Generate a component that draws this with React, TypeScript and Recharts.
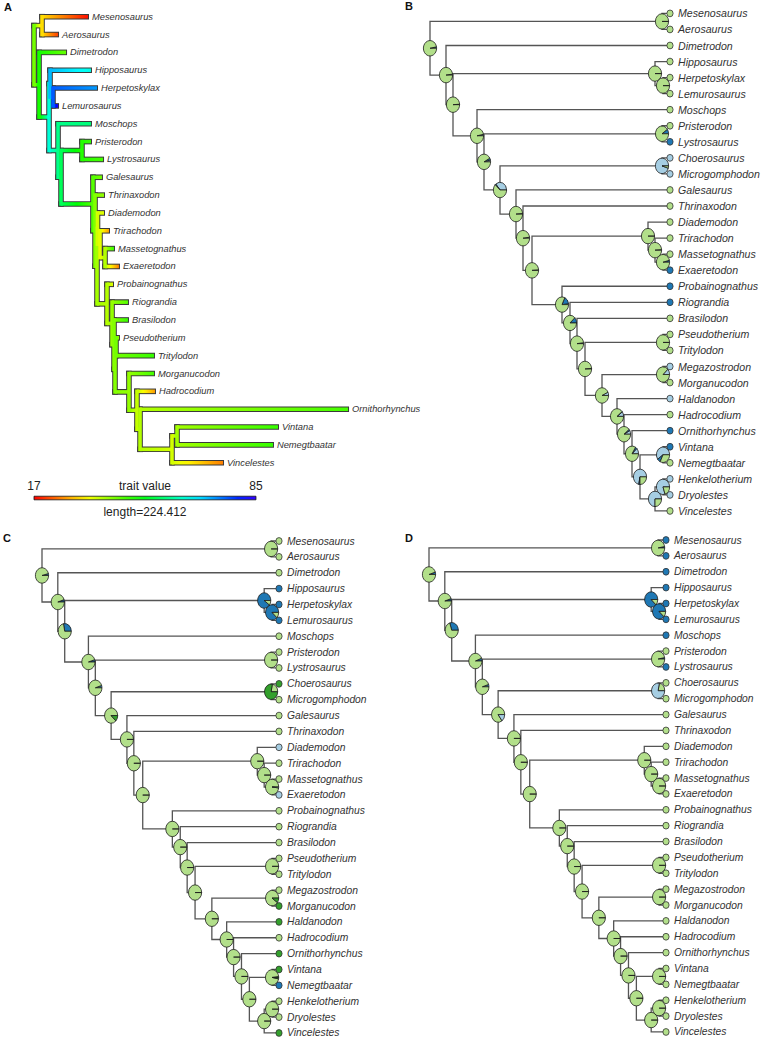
import React from 'react';
import { ComposedChart, XAxis, YAxis, Line, Scatter, ReferenceArea } from 'recharts';

// ---------- state colours ----------
const STATE_COLORS: Record<string, string> = { lb: '#A6CEE3', db: '#1F78B4', lg: '#B2DF8A', dg: '#33A02C' };

// ---------- full tree (panels B, C, D) ----------
const FULL_TIPS = ['Mesenosaurus', 'Aerosaurus', 'Dimetrodon', 'Hipposaurus', 'Herpetoskylax', 'Lemurosaurus', 'Moschops', 'Pristerodon', 'Lystrosaurus', 'Choerosaurus', 'Microgomphodon', 'Galesaurus', 'Thrinaxodon', 'Diademodon', 'Trirachodon', 'Massetognathus', 'Exaeretodon', 'Probainognathus', 'Riograndia', 'Brasilodon', 'Pseudotherium', 'Tritylodon', 'Megazostrodon', 'Morganucodon', 'Haldanodon', 'Hadrocodium', 'Ornithorhynchus', 'Vintana', 'Nemegtbaatar', 'Henkelotherium', 'Dryolestes', 'Vincelestes'];
const FULL_TIP_DEPTH = 240;
// [node, upper child, lower child, depth]
const FULL_NODES: [string, string, string, number][] = [
  ['Root', 'A1', 'N2', 0],
  ['A1', 'Mesenosaurus', 'Aerosaurus', 232],
  ['N2', 'Dimetrodon', 'N3', 16],
  ['N3', 'H1', 'N4', 23],
  ['H1', 'Hipposaurus', 'H2', 225],
  ['H2', 'Herpetoskylax', 'Lemurosaurus', 233],
  ['N4', 'Moschops', 'N5', 47],
  ['N5', 'P1', 'N6', 54],
  ['P1', 'Pristerodon', 'Lystrosaurus', 232],
  ['N6', 'C1', 'N7', 70],
  ['C1', 'Choerosaurus', 'Microgomphodon', 232],
  ['N7', 'Galesaurus', 'N8', 86],
  ['N8', 'Thrinaxodon', 'N9', 93],
  ['N9', 'D1', 'N10', 102],
  ['D1', 'Diademodon', 'D2', 218],
  ['D2', 'Trirachodon', 'D3', 225],
  ['D3', 'Massetognathus', 'Exaeretodon', 233],
  ['N10', 'Probainognathus', 'N11', 132],
  ['N11', 'Riograndia', 'N12', 140],
  ['N12', 'Brasilodon', 'N13', 147],
  ['N13', 'PT', 'N14', 155],
  ['PT', 'Pseudotherium', 'Tritylodon', 233],
  ['N14', 'MM', 'N15', 172],
  ['MM', 'Megazostrodon', 'Morganucodon', 233],
  ['N15', 'Haldanodon', 'N16', 187],
  ['N16', 'Hadrocodium', 'N17', 194],
  ['N17', 'Ornithorhynchus', 'N18', 202],
  ['N18', 'VN', 'N19', 210],
  ['VN', 'Vintana', 'Nemegtbaatar', 233],
  ['N19', 'HD', 'Vincelestes', 225],
  ['HD', 'Henkelotherium', 'Dryolestes', 233],
];

// ---------- panel B ----------
const B_STATE_ORDER = ['lb', 'db', 'lg'];
const B_NODE_PROBS = [
  [0, 0.03, 0.97], [0, 0, 1], [0, 0.02, 0.98], [0, 0.01, 0.99], [0, 0, 1], [0, 0, 1],
  [0, 0.03, 0.97], [0.04, 0.04, 0.92], [0, 0.1, 0.9], [0.36, 0.02, 0.62], [0.95, 0, 0.05],
  [0, 0.01, 0.99], [0, 0.02, 0.98], [0, 0.01, 0.99], [0, 0, 1], [0, 0.01, 0.99], [0, 0.04, 0.96],
  [0.02, 0.16, 0.82], [0, 0.12, 0.88], [0, 0.02, 0.98], [0, 0.01, 0.99], [0, 0, 1],
  [0.07, 0, 0.93], [0.12, 0, 0.88], [0.1, 0.01, 0.89], [0.08, 0.03, 0.89], [0.12, 0.04, 0.84],
  [0.72, 0.03, 0.25], [0.6, 0.08, 0.32], [0.75, 0, 0.25], [0.8, 0, 0.2],
];
const B_TIP_STATES = ['lg', 'lg', 'lg', 'lg', 'lg', 'lg', 'lg', 'lg', 'db', 'lb', 'lb', 'lg', 'lg', 'lg', 'lg', 'lg', 'db', 'db', 'db', 'lg', 'lg', 'lg', 'lb', 'lg', 'lb', 'lg', 'db', 'db', 'lg', 'lb', 'lb', 'lg'];

// ---------- panel C ----------
const C_STATE_ORDER = ['db', 'lg', 'dg', 'lb'];
const C_NODE_PROBS = [
  [0.04, 0.96, 0, 0], [0, 1, 0, 0], [0.05, 0.95, 0, 0], [0.28, 0.72, 0, 0], [0.9, 0.1, 0, 0], [0.88, 0.12, 0, 0],
  [0.05, 0.95, 0, 0], [0.05, 0.95, 0, 0], [0, 1, 0, 0], [0, 0.88, 0.12, 0], [0, 0.22, 0.78, 0],
  [0, 1, 0, 0], [0, 1, 0, 0], [0, 1, 0, 0], [0, 1, 0, 0], [0, 1, 0, 0], [0, 0.98, 0, 0.02],
  [0, 1, 0, 0], [0, 1, 0, 0], [0, 1, 0, 0], [0, 1, 0, 0], [0, 1, 0, 0],
  [0, 1, 0, 0], [0, 0.9, 0.1, 0], [0, 1, 0, 0], [0, 1, 0, 0], [0, 1, 0, 0],
  [0, 1, 0, 0], [0.02, 0.95, 0.03, 0], [0, 1, 0, 0], [0, 1, 0, 0],
];
const C_TIP_STATES = ['lg', 'lg', 'lg', 'db', 'db', 'db', 'lg', 'lg', 'lg', 'dg', 'lg', 'lg', 'lg', 'lb', 'lg', 'lg', 'lb', 'lg', 'lg', 'lg', 'lg', 'lg', 'lg', 'dg', 'dg', 'lg', 'dg', 'dg', 'db', 'lg', 'lg', 'dg'];

// ---------- panel D ----------
const D_STATE_ORDER = ['db', 'lg', 'lb'];
const D_NODE_PROBS = [
  [0.05, 0.95, 0], [0.03, 0.97, 0], [0.05, 0.95, 0], [0.3, 0.7, 0], [0.88, 0.12, 0], [0.88, 0.12, 0],
  [0.06, 0.94, 0], [0.05, 0.95, 0], [0.03, 0.97, 0], [0, 0.85, 0.15], [0, 0.22, 0.78],
  [0, 1, 0], [0, 1, 0], [0, 1, 0], [0, 1, 0], [0, 1, 0], [0, 1, 0],
  [0, 1, 0], [0, 1, 0], [0, 1, 0], [0, 1, 0], [0, 1, 0],
  [0, 1, 0], [0, 1, 0], [0, 1, 0], [0, 1, 0], [0, 1, 0],
  [0, 1, 0], [0, 1, 0], [0, 1, 0], [0, 1, 0],
];
const D_TIP_STATES = ['db', 'db', 'db', 'db', 'db', 'db', 'db', 'lg', 'db', 'lg', 'lg', 'lg', 'lg', 'lg', 'lg', 'lg', 'lg', 'lg', 'lg', 'lg', 'lg', 'lg', 'lg', 'lg', 'lg', 'lg', 'lg', 'lg', 'lg', 'lg', 'lg', 'lg'];

// ---------- panel A (contMap) ----------
const A_TIPS = ['Mesenosaurus', 'Aerosaurus', 'Dimetrodon', 'Hipposaurus', 'Herpetoskylax', 'Lemurosaurus', 'Moschops', 'Pristerodon', 'Lystrosaurus', 'Galesaurus', 'Thrinaxodon', 'Diademodon', 'Trirachodon', 'Massetognathus', 'Exaeretodon', 'Probainognathus', 'Riograndia', 'Brasilodon', 'Pseudotherium', 'Tritylodon', 'Morganucodon', 'Hadrocodium', 'Ornithorhynchus', 'Vintana', 'Nemegtbaatar', 'Vincelestes'];
const A_TIP_DEPTH = [54.6, 24.3, 32.4, 57.6, 63.7, 24.3, 57.6, 57.6, 69.8, 68.7, 70.8, 70.8, 75.8, 80.9, 85.9, 79.9, 95.0, 95.0, 85.9, 121.3, 121.3, 122.3, 317.5, 246.7, 241.6, 191.1];
const A_TIP_VALUE = [18, 21, 43, 64, 72, 84, 57, 46, 45, 42, 40, 35, 27, 46, 25, 35, 44, 46, 40, 46, 45, 27, 45, 46, 46, 25];
// [node, upper child, lower child, depth, trait value]
const A_NODES: [string, string, string, number, number][] = [
  ['Root', 'A1', 'N2', 0, 42],
  ['A1', 'Mesenosaurus', 'Aerosaurus', 8.1, 31],
  ['N2', 'Dimetrodon', 'N3', 5.1, 48],
  ['N3', 'H1', 'N4', 15.2, 63],
  ['H1', 'Hipposaurus', 'H2', 16.2, 70],
  ['H2', 'Herpetoskylax', 'Lemurosaurus', 19.2, 76],
  ['N4', 'Moschops', 'N5', 24.3, 58],
  ['N5', 'P1', 'N7', 27.3, 55],
  ['P1', 'Pristerodon', 'Lystrosaurus', 48.5, 47],
  ['N7', 'Galesaurus', 'N8', 59.6, 44],
  ['N8', 'Thrinaxodon', 'N9', 61.7, 41],
  ['N9', 'D1', 'N10', 63.7, 39],
  ['D1', 'Diademodon', 'D2', 64.2, 36],
  ['D2', 'Trirachodon', 'D3', 66.7, 35],
  ['D3', 'Massetognathus', 'Exaeretodon', 71.8, 38],
  ['N10', 'Probainognathus', 'N11', 73.8, 38],
  ['N11', 'Riograndia', 'N12', 78.9, 40],
  ['N12', 'Brasilodon', 'N13', 80.9, 41],
  ['N13', 'PT', 'N14', 81.9, 41],
  ['PT', 'Pseudotherium', 'Tritylodon', 82.9, 42],
  ['N14', 'Morganucodon', 'N16', 96.0, 40],
  ['N16', 'Hadrocodium', 'N17', 104.1, 37],
  ['N17', 'Ornithorhynchus', 'N18', 107.2, 38],
  ['N18', 'VN', 'Vincelestes', 139.5, 36],
  ['VN', 'Vintana', 'Nemegtbaatar', 144.6, 39],
];
const LEGEND_MIN = 17;
const LEGEND_MAX = 85;
const LEGEND_LENGTH = 224.412;
const LEGEND_TITLE = 'trait value';

// ---------- layout (pixels) ----------
const FONT = '"Liberation Sans", Arial, sans-serif';
const A_GEOM = { left: 0, top: 0, w: 440, h: 519, x0: 34, sx: 1 / 1.011, y0: 16.7, sy: 17.84 };
const B_GEOM = { left: 380, top: 0, w: 382, h: 519, x0: 50, sx: 1, y0: 13.4, sy: 16.05, font: 10.6 };
const C_GEOM = { left: 0, top: 519, w: 380, h: 519, x0: 42, sx: 0.9875, y0: 22, sy: 15.87, font: 10.3 };
const D_GEOM = { left: 380, top: 519, w: 382, h: 519, x0: 49, sx: 0.9875, y0: 21, sy: 15.87, font: 10.3 };
const LEGEND_POS = { labelRow: 26.31, barRow: 26.98, lengthRow: 27.74 };

type Pt = { x: number; y: number };
function layoutTree(tips: string[], tipDepth: (i: number) => number, nodes: [string, string, string, number][]) {
  const pos: Record<string, Pt> = {};
  tips.forEach((t, i) => (pos[t] = { x: tipDepth(i), y: i }));
  const byId: Record<string, [string, string, string, number]> = {};
  nodes.forEach((n) => (byId[n[0]] = n));
  const get = (id: string): Pt => {
    if (pos[id]) return pos[id];
    const n = byId[id];
    const a = get(n[1]);
    const b = get(n[2]);
    pos[id] = { x: n[3], y: (a.y + b.y) / 2 };
    return pos[id];
  };
  nodes.forEach((n) => get(n[0]));
  return pos;
}

const domains = (g: any) => ({
  x: [-g.x0 / g.sx, (g.w - g.x0) / g.sx] as [number, number],
  y: [-g.y0 / g.sy, (g.h - g.y0) / g.sy] as [number, number],
});

// ---------- pie + tip shapes ----------
function slicePath(cx: number, cy: number, rx: number, ry: number, a0: number, a1: number) {
  const pt = (a: number) => [cx + rx * Math.cos(a), cy - ry * Math.sin(a)];
  const [x0, y0] = pt(a0);
  if (a1 - a0 >= 2 * Math.PI - 1e-6) {
    const [xm, ym] = pt(a0 + Math.PI);
    return `M${cx},${cy}L${x0},${y0}A${rx},${ry} 0 0 0 ${xm},${ym}A${rx},${ry} 0 0 0 ${x0},${y0}Z`;
  }
  const [x1, y1] = pt(a1);
  const large = a1 - a0 > Math.PI ? 1 : 0;
  return `M${cx},${cy}L${x0},${y0}A${rx},${ry} 0 ${large} 0 ${x1},${y1}Z`;
}

const makePieShape = (order: string[]) => (props: any) => {
  const { cx, cy, payload } = props;
  const probs: number[] = payload.probs;
  const total = probs.reduce((s, p) => s + p, 0);
  let a0 = 0;
  const out: any[] = [];
  probs.forEach((p, k) => {
    if (p <= 0.0005) return;
    const a1 = a0 + (p / total) * 2 * Math.PI;
    out.push(<path key={k} d={slicePath(cx, cy, 6.6, 7.7, a0, a1)} fill={STATE_COLORS[order[k]]} stroke="#1a1a1a" strokeWidth={0.8} />);
    a0 = a1;
  });
  return <g>{out}</g>;
};

const makeTipShape = (fontSize: number) => (props: any) => {
  const { cx, cy, payload } = props;
  return (
    <g>
      <ellipse cx={cx} cy={cy} rx={3.1} ry={3.4} fill={STATE_COLORS[payload.state]} stroke="#333" strokeWidth={0.8} />
      <text x={cx + 8} y={cy} dominantBaseline="central" fontSize={fontSize} fontStyle="italic" fill="#333" fontFamily={FONT}>
        {payload.name}
      </text>
    </g>
  );
};

function TreePanel({ geom, probs, order, tipStates }: any) {
  const pos = layoutTree(FULL_TIPS, () => FULL_TIP_DEPTH, FULL_NODES);
  const d = domains(geom);
  const branchLines = FULL_NODES.map(([id, c1, c2]) => {
    const n = pos[id], a = pos[c1], b = pos[c2];
    return [
      { x: a.x, y: a.y },
      { x: n.x, y: a.y },
      { x: n.x, y: b.y },
      { x: b.x, y: b.y },
    ];
  });
  const pieData = FULL_NODES.map(([id], k) => ({ x: pos[id].x, y: pos[id].y, probs: probs[k] }));
  const tipData = FULL_TIPS.map((t, i) => ({ x: pos[t].x, y: pos[t].y, name: t, state: tipStates[i] }));
  return (
    <div style={{ position: 'absolute', left: geom.left, top: geom.top }}>
      <ComposedChart width={geom.w} height={geom.h} margin={{ top: 0, right: 0, bottom: 0, left: 0 }}>
        <XAxis type="number" dataKey="x" domain={d.x} hide />
        <YAxis type="number" dataKey="y" domain={d.y} reversed hide />
        {branchLines.map((pts, i) => (
          <Line key={i} data={pts} dataKey="y" type="linear" stroke="#555" strokeWidth={1.3} dot={false} activeDot={false} isAnimationActive={false} />
        ))}
        <Scatter data={pieData} shape={makePieShape(order)} isAnimationActive={false} />
        <Scatter data={tipData} shape={makeTipShape(geom.font)} isAnimationActive={false} />
      </ComposedChart>
    </div>
  );
}

// ---------- panel A ----------
const hueOf = (v: number) => Math.max(0, Math.min(1, (v - LEGEND_MIN) / (LEGEND_MAX - LEGEND_MIN))) * 252;
const colorOf = (v: number) => `hsl(${hueOf(v).toFixed(1)},100%,50%)`;

function gradStops(v0: number, v1: number, n: number) {
  const stops = [];
  for (let i = 0; i <= n; i++) {
    const t = i / n;
    stops.push(<stop key={i} offset={`${(t * 100).toFixed(1)}%`} stopColor={colorOf(v0 + (v1 - v0) * t)} />);
  }
  return stops;
}

function PanelA() {
  const nodes4 = A_NODES.map((n) => [n[0], n[1], n[2], n[3]] as [string, string, string, number]);
  const pos = layoutTree(A_TIPS, (i) => A_TIP_DEPTH[i], nodes4);
  const val: Record<string, number> = {};
  A_TIPS.forEach((t, i) => (val[t] = A_TIP_VALUE[i]));
  A_NODES.forEach((n) => (val[n[0]] = n[4]));
  const g = A_GEOM;
  const d = domains(g);
  const ux = 1 / g.sx;
  const uy = 1 / g.sy;
  const hor: any[] = [];
  const ver: any[] = [];
  A_NODES.forEach(([id, c1, c2]) => {
    const n = pos[id];
    [c1, c2].forEach((c) => hor.push({ id: `ga_${c}`, x1: n.x, x2: pos[c].x, y: pos[c].y, v0: val[id], v1: val[c] }));
    ver.push({ id, x: n.x, y1: Math.min(pos[c1].y, pos[c2].y), y2: Math.max(pos[c1].y, pos[c2].y), v: val[id] });
  });
  const labels = A_TIPS.map((t) => ({ x: pos[t].x, y: pos[t].y, name: t }));
  const legendMid = LEGEND_LENGTH / 2;
  const legendTexts = [
    { x: 0, y: LEGEND_POS.labelRow, t: String(LEGEND_MIN) },
    { x: legendMid, y: LEGEND_POS.labelRow, t: LEGEND_TITLE },
    { x: LEGEND_LENGTH, y: LEGEND_POS.labelRow, t: String(LEGEND_MAX) },
    { x: legendMid, y: LEGEND_POS.lengthRow, t: `length=${LEGEND_LENGTH}` },
  ];
  const OH = 2.8, CH = 1.8;
  return (
    <div style={{ position: 'absolute', left: g.left, top: g.top }}>
      <svg width={0} height={0} style={{ position: 'absolute' }}>
        <defs>
          {hor.map((b) => (
            <linearGradient key={b.id} id={b.id} x1="0" y1="0" x2="1" y2="0">
              {gradStops(b.v0, b.v1, 6)}
            </linearGradient>
          ))}
          <linearGradient id="ga_legend" x1="0" y1="0" x2="1" y2="0">
            {gradStops(LEGEND_MIN, LEGEND_MAX, 12)}
          </linearGradient>
        </defs>
      </svg>
      <ComposedChart width={g.w} height={g.h} margin={{ top: 0, right: 0, bottom: 0, left: 0 }}>
        <XAxis type="number" dataKey="x" domain={d.x} hide />
        <YAxis type="number" dataKey="y" domain={d.y} reversed hide />
        {hor.map((b) => (
          <ReferenceArea key={'oh' + b.id} x1={b.x1 - OH * ux} x2={b.x2 + 1 * ux} y1={b.y - OH * uy} y2={b.y + OH * uy} fill="#3a3a3a" fillOpacity={1} stroke="none" ifOverflow="visible" />
        ))}
        {ver.map((v) => (
          <ReferenceArea key={'ov' + v.id} x1={v.x - OH * ux} x2={v.x + OH * ux} y1={v.y1 - OH * uy} y2={v.y2 + OH * uy} fill="#3a3a3a" fillOpacity={1} stroke="none" ifOverflow="visible" />
        ))}
        {hor.map((b) => (
          <ReferenceArea key={'ch' + b.id} x1={b.x1} x2={b.x2} y1={b.y - CH * uy} y2={b.y + CH * uy} fill={`url(#${b.id})`} fillOpacity={1} stroke="none" ifOverflow="visible" />
        ))}
        {ver.map((v) => (
          <ReferenceArea key={'cv' + v.id} x1={v.x - CH * ux} x2={v.x + CH * ux} y1={v.y1 - CH * uy} y2={v.y2 + CH * uy} fill={colorOf(v.v)} fillOpacity={1} stroke="none" ifOverflow="visible" />
        ))}
        <ReferenceArea x1={0} x2={LEGEND_LENGTH} y1={LEGEND_POS.barRow - 1.8 * uy} y2={LEGEND_POS.barRow + 1.8 * uy} fill="url(#ga_legend)" fillOpacity={1} stroke="#111" strokeWidth={0.8} ifOverflow="visible" />
        <Scatter
          data={labels}
          isAnimationActive={false}
          shape={(p: any) => (
            <text x={p.cx + 4} y={p.cy} dominantBaseline="central" fontSize={9.3} fontStyle="italic" fill="#333" fontFamily={FONT}>
              {p.payload.name}
            </text>
          )}
        />
        <Scatter
          data={legendTexts}
          isAnimationActive={false}
          shape={(p: any) => (
            <text x={p.cx} y={p.cy} dominantBaseline="central" textAnchor="middle" fontSize={12} fill="#222" fontFamily={FONT}>
              {p.payload.t}
            </text>
          )}
        />
      </ComposedChart>
    </div>
  );
}

const PANEL_LETTERS = [
  { t: 'A', x: 4, y: 11 },
  { t: 'B', x: 405, y: 10 },
  { t: 'C', x: 3, y: 542 },
  { t: 'D', x: 405, y: 542 },
];

export default function App() {
  return (
    <div style={{ position: 'absolute', left: 0, top: 0, width: 762, height: 1038, background: '#fff', overflow: 'hidden' }}>
      <PanelA />
      <TreePanel geom={B_GEOM} probs={B_NODE_PROBS} order={B_STATE_ORDER} tipStates={B_TIP_STATES} />
      <TreePanel geom={C_GEOM} probs={C_NODE_PROBS} order={C_STATE_ORDER} tipStates={C_TIP_STATES} />
      <TreePanel geom={D_GEOM} probs={D_NODE_PROBS} order={D_STATE_ORDER} tipStates={D_TIP_STATES} />
      <svg width={762} height={1038} style={{ position: 'absolute', left: 0, top: 0, pointerEvents: 'none' }}>
        {PANEL_LETTERS.map((l) => (
          <text key={l.t} x={l.x} y={l.y} fontSize={11} fontWeight="bold" fill="#111" fontFamily={FONT}>
            {l.t}
          </text>
        ))}
      </svg>
    </div>
  );
}
